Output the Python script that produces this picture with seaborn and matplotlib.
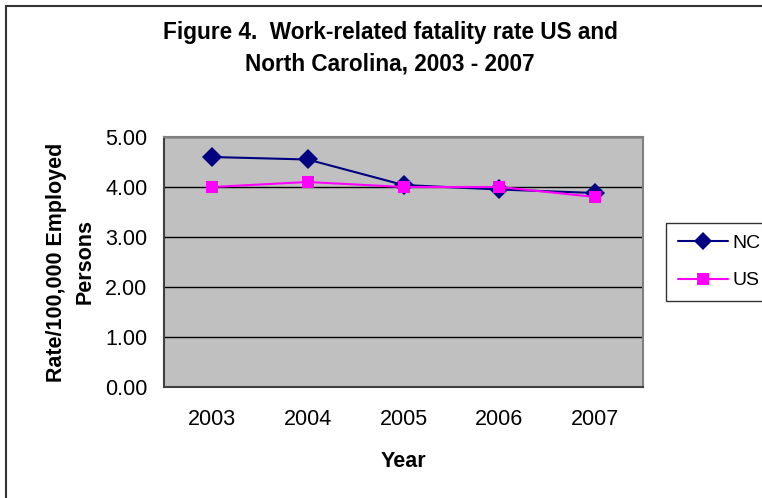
import matplotlib
matplotlib.use("Agg")
import matplotlib.pyplot as plt
import matplotlib.patches as mpatches
import seaborn as sns
import pandas as pd

# Work-related fatality rates per 100,000 employed persons
years = ["2003", "2004", "2005", "2006", "2007"]
nc_rate = [4.60, 4.55, 4.04, 3.95, 3.88]
us_rate = [4.00, 4.10, 4.00, 4.00, 3.80]
series_names = ["NC", "US"]
y_ticks = [0.0, 1.0, 2.0, 3.0, 4.0, 5.0]

df = pd.DataFrame({
    "Year": years * 2,
    "Rate": nc_rate + us_rate,
    "Series": [series_names[0]] * len(years) + [series_names[1]] * len(years),
})

sns.set_theme(style="white")
plt.rcParams["font.family"] = ["Liberation Sans", "DejaVu Sans"]
plt.rcParams["text.color"] = "black"
plt.rcParams["axes.labelcolor"] = "black"
plt.rcParams["xtick.color"] = "black"
plt.rcParams["ytick.color"] = "black"

W, H = 762, 498
fig = plt.figure(figsize=(W / 100, H / 100), dpi=100)
fig.patch.set_facecolor("white")

left, right, top, bottom = 164, 643, 137, 387
ax = fig.add_axes([left / W, 1 - bottom / H, (right - left) / W, (bottom - top) / H])
ax.set_facecolor("#C0C0C0")

sns.lineplot(
    data=df, x="Year", y="Rate", hue="Series", style="Series",
    palette={"NC": "#000080", "US": "#FF00FF"},
    markers={"NC": "D", "US": "s"}, dashes=False,
    linewidth=1.5, markeredgewidth=0,
    ax=ax, legend=False,
)
for line, ms in zip(ax.get_lines(), [10, 9]):
    line.set_markersize(ms)

fs = 15.5
ax.set_xlim(-0.5, len(years) - 0.5)
ax.set_ylim(0, 5)
ax.set_yticks(y_ticks)
ax.set_yticklabels([f"{v:.2f}" for v in y_ticks], fontsize=fs)
ax.yaxis.grid(True, color="#000000", linewidth=1.0)
ax.set_axisbelow(True)

# category axis: ticks on the boundaries, labels centered between them
ax.set_xticks([i - 0.5 for i in range(len(years) + 1)])
ax.set_xticklabels([""] * (len(years) + 1))
ax.set_xticks(range(len(years)), minor=True)
ax.set_xticklabels(years, minor=True, fontsize=fs)
ax.tick_params(axis="x", which="minor", length=0, pad=16)
ax.tick_params(axis="x", which="major", length=6, width=1.2, color="#404040", direction="out")
ax.tick_params(axis="y", length=6, width=1.2, color="#404040", direction="out", pad=6)

for side in ["left", "bottom"]:
    ax.spines[side].set_color("#404040")
    ax.spines[side].set_linewidth(1.5)
for side in ["top", "right"]:
    ax.spines[side].set_color("#808080")
    ax.spines[side].set_linewidth(1.5)

ax.set_xlabel("Year", fontsize=fs, fontweight="bold", labelpad=15)
ax.set_ylabel("Rate/100,000 Employed\nPersons", fontsize=fs, fontweight="bold", labelpad=7,
              linespacing=1.45)

fig.text(0.512, 1 - 48.5 / H, "Figure 4.  Work-related fatality rate US and\nNorth Carolina, 2003 - 2007",
         ha="center", va="center", fontsize=16.3, fontweight="bold", linespacing=1.45)

# legend to the right of the plot area
handles = [
    plt.Line2D([], [], color="#000080", marker="D", markersize=9, linewidth=1.5, markeredgewidth=0),
    plt.Line2D([], [], color="#FF00FF", marker="s", markersize=8, linewidth=1.5, markeredgewidth=0),
]
leg = fig.legend(handles, series_names, loc="upper left",
                 bbox_to_anchor=(666 / W, 1 - 223 / H), bbox_transform=fig.transFigure,
                 fontsize=14, handlelength=2.6, handletextpad=0.2, frameon=True,
                 fancybox=False, borderpad=0.6, labelspacing=1.0, borderaxespad=0)
leg.get_frame().set_edgecolor("#000000")
leg.get_frame().set_linewidth(1.0)

# outer chart border
fig.patches.append(mpatches.Rectangle((6 / W, -0.1), 1.2, 1.1 - 6 / H, transform=fig.transFigure,
                                      fill=False, edgecolor="#333333", linewidth=1.5))

fig.savefig("out.png", dpi=100)
